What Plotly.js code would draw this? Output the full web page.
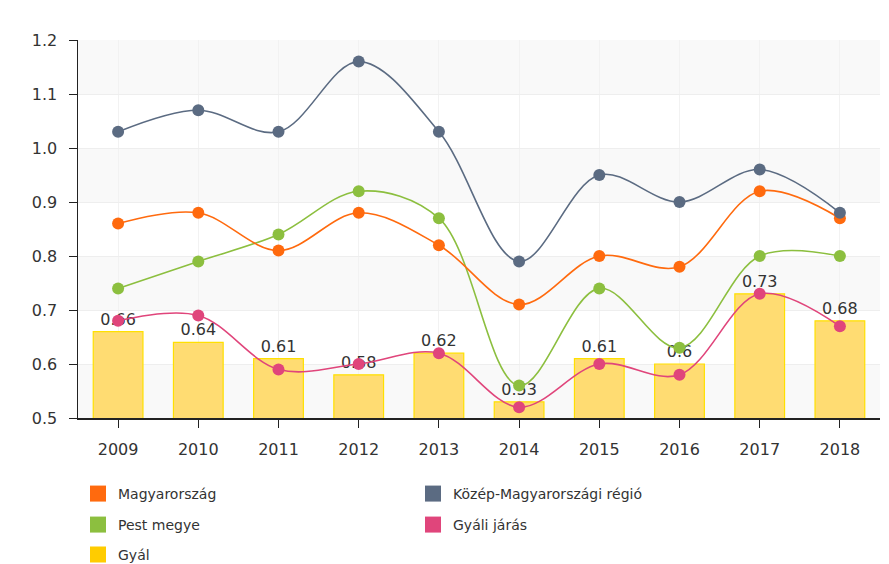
<!DOCTYPE html>
<html>
<head>
<meta charset="utf-8">
<script src="https://cdn.plot.ly/plotly-3.0.1.min.js"></script>
<style>html,body{margin:0;padding:0;background:#fff;}#chart{width:889px;height:564px;}</style>
</head>
<body>
<div id="chart"></div>
<script>
var years = ['2009','2010','2011','2012','2013','2014','2015','2016','2017','2018'];
var gyal = [0.66, 0.64, 0.61, 0.58, 0.62, 0.53, 0.61, 0.60, 0.73, 0.68];
var gyalLabels = ['0.66','0.64','0.61','0.58','0.62','0.53','0.61','0.6','0.73','0.68'];
var magyarorszag = [0.86, 0.88, 0.81, 0.88, 0.82, 0.71, 0.80, 0.78, 0.92, 0.87];
var kozepMagyar = [1.03, 1.07, 1.03, 1.16, 1.03, 0.79, 0.95, 0.90, 0.96, 0.88];
var pestMegye = [0.74, 0.79, 0.84, 0.92, 0.87, 0.56, 0.74, 0.63, 0.80, 0.80];
var gyaliJaras = [0.68, 0.69, 0.59, 0.60, 0.62, 0.52, 0.60, 0.58, 0.73, 0.67];
var yTicks = [0.5, 0.6, 0.7, 0.8, 0.9, 1.0, 1.1, 1.2];
var yTickText = ['0.5','0.6','0.7','0.8','0.9','1.0','1.1','1.2'];

var C = {mo:'#FF6A0E', kmr:'#5B6B82', pest:'#8CBF3F', jaras:'#E0457B', gyal:'#FFDC72', gyalLine:'#FFE000'};

function lineTrace(name, y, color) {
  return {type:'scatter', mode:'lines+markers', name:name, x:years, y:y,
    line:{color:color, width:1.6, shape:'spline', smoothing:1},
    marker:{color:color, size:12}, showlegend:false, hoverinfo:'y'};
}
function legendTrace(name, color, leg) {
  return {type:'scatter', mode:'markers', name:name, x:[null], y:[null],
    marker:{color:color, symbol:'square', size:16}, legend:leg, showlegend:true, hoverinfo:'skip'};
}

var data = [
  {type:'bar', name:'Gyál', x:years, y:gyal, text:gyalLabels, textposition:'outside',
   textfont:{family:'DejaVu Sans', size:16, color:'#333'}, cliponaxis:false,
   marker:{color:C.gyal, line:{color:C.gyalLine, width:1.2}}, width:0.62, showlegend:false, hoverinfo:'y'},
  lineTrace('Pest megye', pestMegye, C.pest),
  lineTrace('Gyáli járás', gyaliJaras, C.jaras),
  lineTrace('Magyarország', magyarorszag, C.mo),
  lineTrace('Közép-Magyarországi régió', kozepMagyar, C.kmr),
  legendTrace('Magyarország', C.mo, 'legend'),
  legendTrace('Közép-Magyarországi régió', C.kmr, 'legend'),
  legendTrace('Pest megye', C.pest, 'legend2'),
  legendTrace('Gyáli járás', C.jaras, 'legend2'),
  legendTrace('Gyál', '#FFCC00', 'legend3')
];

// faint alternating background bands between every other pair of y ticks
var shapes = [];
for (var i = 0; i < yTicks.length - 1; i += 2) {
  shapes.push({type:'rect', xref:'paper', yref:'y', x0:0, x1:1,
    y0:yTicks[yTicks.length - 1 - i - 1], y1:yTicks[yTicks.length - 1 - i],
    fillcolor:'rgba(0,0,0,0.022)', line:{width:0}, layer:'below'});
}

function leg(y) {
  return {orientation:'h', x:0, xanchor:'left', y:y, yanchor:'middle',
    entrywidth:290, entrywidthmode:'pixels', bgcolor:'rgba(0,0,0,0)',
    font:{family:'DejaVu Sans', size:14, color:'#333'}};
}

var layout = {
  width:889, height:564,
  margin:{l:78, r:9, t:40, b:146, autoexpand:false},
  paper_bgcolor:'#fff', plot_bgcolor:'#fff',
  font:{family:'DejaVu Sans', size:16, color:'#333'},
  shapes:shapes,
  xaxis:{type:'category', range:[-0.5, 9.5], showline:true, linecolor:'#222', linewidth:1.5,
    ticks:'outside', ticklen:8, tickcolor:'#222', showgrid:true, gridcolor:'#f2f2f2',
    tickfont:{family:'DejaVu Sans', size:16, color:'#333'}, ticklabelstandoff:8, fixedrange:true},
  yaxis:{range:[0.5, 1.2], tickvals:yTicks, ticktext:yTickText, showline:true, linecolor:'#222', linewidth:1.5,
    ticks:'outside', ticklen:8, tickcolor:'#222', showgrid:true, gridcolor:'#eeeeee', zeroline:false,
    tickfont:{family:'DejaVu Sans', size:16, color:'#333'}, ticklabelstandoff:8, fixedrange:true},
  legend:leg(-0.201),
  legend2:leg(-0.283),
  legend3:leg(-0.362),
  showlegend:true
};

Plotly.newPlot('chart', data, layout, {displayModeBar:false, staticPlot:true});
</script>
</body>
</html>
